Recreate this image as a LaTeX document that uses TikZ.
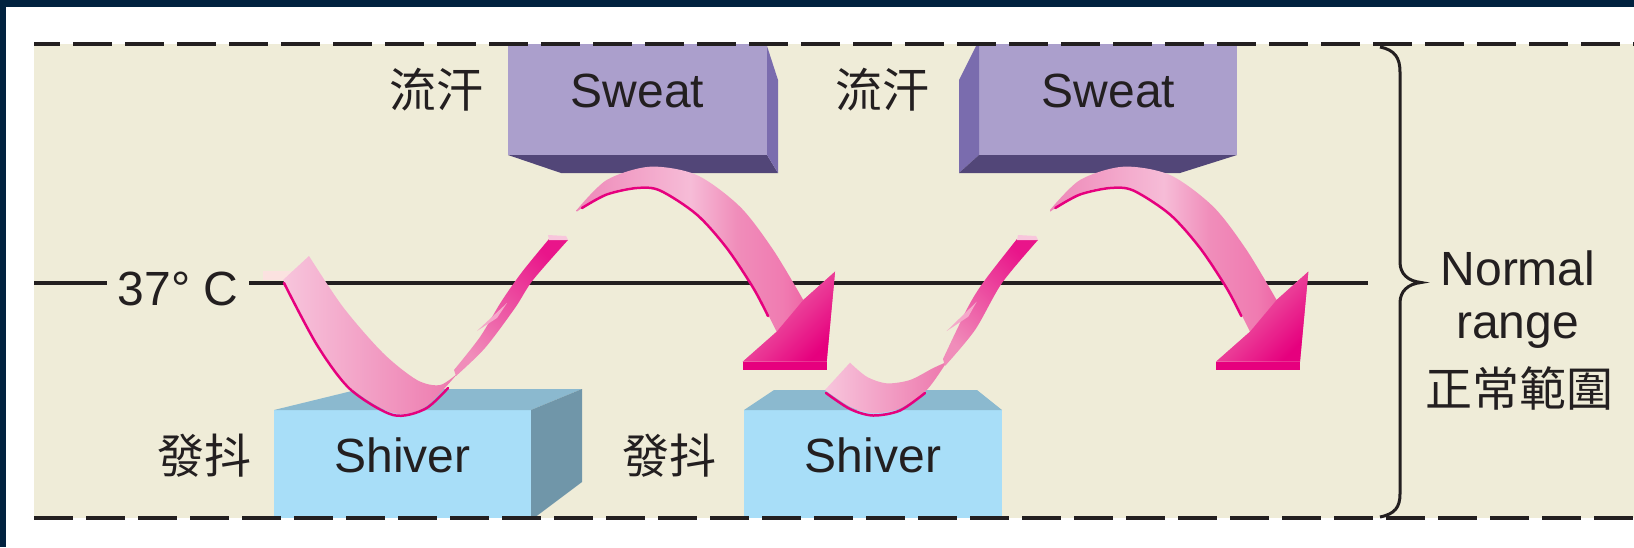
\documentclass[tikz,border=0pt]{standalone}
\usepackage{fontspec}
\setmainfont{Liberation Sans}
\newfontfamily\cjk{Noto Sans CJK TC}
\definecolor{ink}{HTML}{231F20}
\definecolor{navy}{HTML}{01223F}
\definecolor{beige}{HTML}{EFECD8}
\definecolor{sweatF}{HTML}{AB9FCC}
\definecolor{sweatB}{HTML}{524678}
\definecolor{sweatS}{HTML}{7A6CAE}
\definecolor{shivF}{HTML}{A8DEF8}
\definecolor{shivT}{HTML}{8BB9CF}
\definecolor{shivS}{HTML}{7096A9}
\definecolor{pkLL}{HTML}{F7C5DC}
\definecolor{pkMtwo}{HTML}{ED78AD}
\definecolor{pkL}{HTML}{F6BCD7}
\definecolor{pkA}{HTML}{EE88B8}
\definecolor{magD}{HTML}{E6007E}
\definecolor{pkH}{HTML}{F07BB1}
\definecolor{pkM}{HTML}{F08DBA}
\definecolor{pkT}{HTML}{EB4A96}
\definecolor{magB}{HTML}{E9158A}
\definecolor{pkN}{HTML}{F5A8CA}
\definecolor{pkCap}{HTML}{F8C6DC}
\definecolor{pkTail}{HTML}{FBE2E0}
\pgfdeclarehorizontalshading{archshade}{100bp}{color(0bp)=(pkA); color(25bp)=(pkA); color(47bp)=(pkL); color(56bp)=(pkM); color(65bp)=(pkH); color(75bp)=(pkT); color(100bp)=(pkT)}
\tikzset{
  lbl/.style={font=\fontsize{48}{56}\selectfont, text=ink, inner sep=0pt},
  cjklbl/.style={font=\fontsize{47}{56}\selectfont\cjk, text=ink, inner sep=0pt},
  dashline/.style={draw=ink, line width=4pt, dash pattern=on 39pt off 13pt},
  blkline/.style={draw=ink, line width=4pt},
  ribbonrim/.style={draw=magD, line width=2.5pt, line cap=round},
  archarrow/.pic={
    \shade[shading=archshade]
      plot[smooth] coordinates {(576.7,210) (606.7,180) (650,166.7) (696.7,175) (740,206.7) (773.3,250) (803.3,300)}
      -- (835,271.7) -- (826.7,361.7) -- (742.7,361.7) -- (776.7,331.7)
      -- plot[smooth] coordinates {(776.7,331.7) (753.3,286.7) (726.7,246.7) (696.7,213.3) (660,189.3) (636.7,186.7) (606.7,193.3) (576.7,211.7)} -- cycle;
    \shade[top color=pkH, bottom color=magD, shading angle=45]
      (803.3,300) -- (835,271.7) -- (826.7,361.7) -- (742.7,361.7) -- (776.7,331.7) -- cycle;
    \fill[magD] (742.7,361.7) rectangle (826.7,370);
    \draw[ribbonrim] plot[smooth] coordinates {(582,208) (606.7,194.5) (636.7,188) (660,190.5) (696.7,214.5) (726.7,248) (753.3,288) (768,316)};
  }
}
\begin{document}
\begin{tikzpicture}[x=1pt,y=-1pt]
\useasboundingbox (0,0) rectangle (1634,547);
\fill[white] (0,0) rectangle (1634,547);
\fill[navy] (0,0) rectangle (1634,7);
\fill[navy] (0,0) rectangle (6,547);
\fill[beige] (34,44) rectangle (1634,518);

% 37 C line
\node[lbl, anchor=base, inner xsep=11pt] (t37) at (178,305) {37° C};
\coordinate (lineL) at (34,282.5);
\coordinate (lineR) at (1368,282.5);
\draw[blkline] (lineL) -- (lineL -| t37.west);
\draw[blkline] (lineL -| t37.east) -- (lineR);

% Sweat boxes
\fill[sweatF] (508,44) rectangle (767,155);
\fill[sweatB] (508,155) -- (767,155) -- (778,173) -- (561,173) -- cycle;
\fill[sweatS] (767,46) -- (778,80) -- (778,173) -- (767,155) -- cycle;
\fill[sweatF] (979,44) rectangle (1237,155);
\fill[sweatS] (976,46) -- (959,80) -- (959,173) -- (979,155) -- (979,46) -- cycle;
\fill[sweatB] (979,155) -- (1237,155) -- (1180,173) -- (959,173) -- cycle;

% Shiver boxes
\fill[shivF] (274,410) rectangle (531,518);
\fill[shivT] (274,410) -- (360,389) -- (582,389) -- (531,410) -- cycle;
\fill[shivS] (531,410) -- (582,389) -- (582,482) -- (534,518) -- (531,518) -- cycle;
\fill[shivF] (744,410) rectangle (1002,518);
\fill[shivT] (744,410) -- (774,390) -- (977,390) -- (1002,410) -- cycle;

% dashed borders
\draw[dashline, dash phase=13pt] (34,44) -- (1634,44);
\draw[dashline] (34,518) -- (1634,518);

% brace
\draw[ink, line width=3pt] (1380,47) .. controls (1395,50) and (1400,58) .. (1400,72) -- (1400,262) .. controls (1400,274) and (1408,281) .. (1421,282.5) .. controls (1408,284) and (1400,291) .. (1400,303) -- (1400,494) .. controls (1400,507) and (1395,514) .. (1380,517);

% ribbon A
\fill[pkTail] (263,271) -- (292,271) -- (284,280) -- (263,280) -- cycle;
\shade[left color=pkLL, right color=pkMtwo]
  plot[smooth] coordinates {(283,280) (317,343) (350,387) (393,413) (425,407) (458,373)}
  -- plot[smooth] coordinates {(458,373) (440,385) (417,380) (383,353) (343,307) (309,256)} -- cycle;
\draw[ribbonrim] plot[smooth] coordinates {(284,283) (317,345) (350,389) (393,415) (425,409) (448,388)};
\shade[bottom color=pkM, top color=magB, shading angle=-45]
  plot[smooth] coordinates {(456,376) (485,348) (515,308) (533,280) (568,240)} -- (549,239)
  -- plot[smooth] coordinates {(549,239) (522,272) (501,302) (480,337) (454,370)} -- cycle;
\fill[pkN] (477,331) -- (507,303) -- (497,318) -- cycle;
\fill[pkCap] (548,235) -- (566,236) -- (568,240) -- (549,240) -- cycle;

% ribbon C
\shade[left color=pkLL, right color=pkMtwo]
  plot[smooth] coordinates {(825,390) (850,406.7) (873.3,413.3) (900,408.3) (926.7,390) (946.7,362)}
  -- plot[smooth] coordinates {(946.7,362) (933.3,368) (910,380) (886.7,383.3) (866.7,376.7) (850,362.7)} -- cycle;
\draw[ribbonrim] plot[smooth] coordinates {(826,393) (850,409) (873,415.5) (900,410.5) (925,393)};
\shade[bottom color=pkM, top color=magB, shading angle=-45]
  plot[smooth] coordinates {(945,366) (975,330) (1002,283) (1038,240)} -- (1017,239)
  -- plot[smooth] coordinates {(1017,239) (985,280) (968,307) (943,359)} -- cycle;
\fill[pkN] (946.7,331) -- (976.7,301.7) -- (968.3,316.7) -- cycle;
\fill[pkCap] (1018,235) -- (1036,236) -- (1038,240) -- (1017,240) -- cycle;

% arches B and D
\pic at (0,0) {archarrow};
\pic at (473.3,0) {archarrow};

% labels
\node[lbl, anchor=base] (sweat1) at (637.5,107) {Sweat};
\node[lbl, anchor=base] (sweat2) at (1108.5,107) {Sweat};
\node[lbl, anchor=base] (shiver1) at (402.5,472) {Shiver};
\node[lbl, anchor=base] (shiver2) at (873,472) {Shiver};
\node[cjklbl, anchor=base] (lh1) at (436.5,107) {流汗};
\node[cjklbl, anchor=base] (lh2) at (882.5,107) {流汗};
\node[cjklbl, anchor=base] (fd1) at (204,473) {發抖};
\node[cjklbl, anchor=base] (fd2) at (669.5,473) {發抖};
\node[lbl, anchor=base] (nm) at (1518,285) {Normal};
\node[lbl, anchor=base] (rg) at (1517.5,338) {range};
\node[cjklbl, anchor=base] (zc) at (1519,406) {正常範圍};
\end{tikzpicture}
\end{document}
